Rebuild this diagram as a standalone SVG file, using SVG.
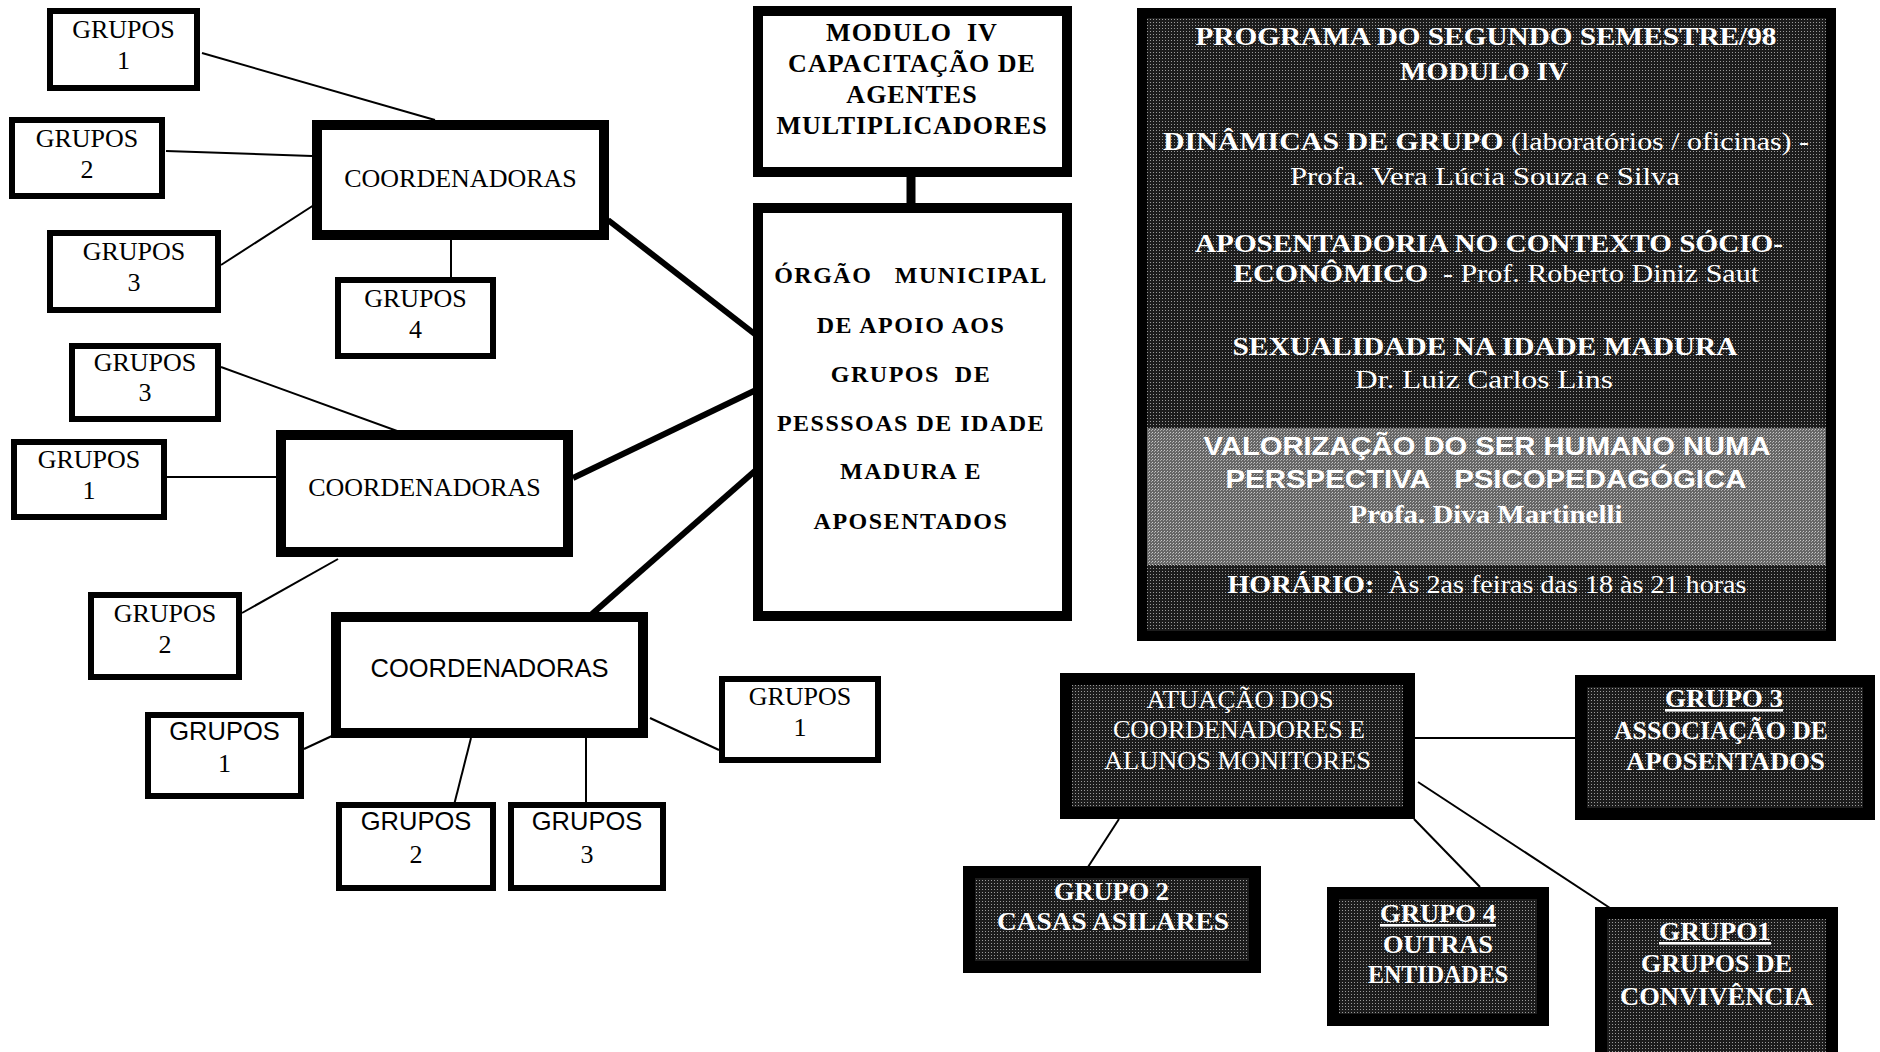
<svg xmlns="http://www.w3.org/2000/svg" width="1880" height="1052" viewBox="0 0 1880 1052">
<style>
.box{fill:#fff;stroke:#000;stroke-width:6}
.cbox{fill:#fff;stroke:#000;stroke-width:10}
.ser{font-family:"Liberation Serif","Times New Roman",serif;font-size:26px;text-anchor:middle;fill:#000}
.sans{font-family:"Liberation Sans",Arial,sans-serif;font-size:25.5px;text-anchor:middle;fill:#000}
.bold{font-weight:bold}
.pre{white-space:pre}
.thin{stroke:#000;stroke-width:2;fill:none}
.thick{stroke:#000;stroke-width:6;fill:none}
.pt{font-family:"Liberation Serif","Times New Roman",serif;font-size:26px;font-weight:bold;text-anchor:middle;fill:#fff}
.pn{font-weight:normal}
.ps{font-family:"Liberation Sans",Arial,sans-serif;font-weight:bold}
.blk{fill:#000}
</style>
<defs>
<pattern id="dk" width="3" height="3" patternUnits="userSpaceOnUse"><rect width="3" height="3" fill="#1c1c1c"/><rect x="1" y="1" width="1" height="1" fill="#9a9a9a"/></pattern>
<pattern id="lt" width="3" height="3" patternUnits="userSpaceOnUse"><rect width="3" height="3" fill="#666"/><rect x="0" y="0" width="1" height="1" fill="#c8c8c8"/><rect x="2" y="1" width="1" height="1" fill="#a8a8a8"/></pattern>
</defs>
<rect width="1880" height="1052" fill="#fff"/>

<g id="connectors">
  <line class="thin" x1="202" y1="53" x2="435" y2="120"/>
  <line class="thin" x1="166" y1="151" x2="312" y2="156"/>
  <line class="thin" x1="221" y1="265" x2="314" y2="205"/>
  <line class="thin" x1="451" y1="240" x2="451" y2="277"/>
  <line class="thin" x1="221" y1="367" x2="433" y2="444"/>
  <line class="thin" x1="167" y1="477" x2="276" y2="477"/>
  <line class="thin" x1="242" y1="613" x2="338" y2="559"/>
  <line class="thin" x1="304" y1="749" x2="334" y2="735"/>
  <line class="thin" x1="471" y1="738" x2="452" y2="813"/>
  <line class="thin" x1="586" y1="738" x2="586" y2="812"/>
  <line class="thin" x1="650" y1="718" x2="719" y2="750"/>
  <line class="thick" x1="608" y1="220" x2="756" y2="335"/>
  <line class="thick" x1="573" y1="478" x2="756" y2="390"/>
  <line class="thick" x1="592" y1="614" x2="756" y2="470"/>
  <line stroke="#000" stroke-width="9" x1="911" y1="175" x2="911" y2="205"/>
  <line class="thin" x1="1414" y1="738" x2="1576" y2="738"/>
  <line class="thin" x1="1119" y1="819" x2="1088" y2="867"/>
  <line class="thin" x1="1414" y1="819" x2="1480" y2="887"/>
  <line class="thin" x1="1418" y1="782" x2="1610" y2="908"/>
</g>

<g id="a-grupos1"><rect class="box" x="50" y="11" width="147" height="77"/><text class="ser" x="123.5" y="38">GRUPOS</text><text class="ser" x="123.5" y="69">1</text></g>
<g id="a-grupos2"><rect class="box" x="12" y="120" width="150" height="76"/><text class="ser" x="87" y="147">GRUPOS</text><text class="ser" x="87" y="178">2</text></g>
<g id="a-grupos3"><rect class="box" x="50" y="233" width="168" height="77"/><text class="ser" x="134" y="260">GRUPOS</text><text class="ser" x="134" y="291">3</text></g>
<g id="a-grupos4"><rect class="box" x="338" y="280" width="155" height="76"/><text class="ser" x="415.5" y="307">GRUPOS</text><text class="ser" x="415.5" y="338">4</text></g>
<g id="a-coord"><rect class="cbox" x="317" y="125" width="287" height="110"/><text class="ser" x="460.5" y="187" font-size="25.5">COORDENADORAS</text></g>

<g id="b-grupos3"><rect class="box" x="72" y="346" width="146" height="73"/><text class="ser" x="145" y="371">GRUPOS</text><text class="ser" x="145" y="401">3</text></g>
<g id="b-grupos1"><rect class="box" x="14" y="442" width="150" height="75"/><text class="ser" x="89" y="468">GRUPOS</text><text class="ser" x="89" y="499">1</text></g>
<g id="b-grupos2"><rect class="box" x="91" y="595" width="148" height="82"/><text class="ser" x="165" y="622">GRUPOS</text><text class="ser" x="165" y="653">2</text></g>
<g id="b-coord"><rect class="cbox" x="281" y="435" width="287" height="117"/><text class="ser" x="424.5" y="496" font-size="25.5">COORDENADORAS</text></g>

<g id="c-coord"><rect class="cbox" x="336" y="617" width="307" height="116"/><text class="sans" x="489.5" y="677">COORDENADORAS</text></g>
<g id="c-grupos1l"><rect class="box" x="148" y="715" width="153" height="81"/><text class="sans" x="224.5" y="740">GRUPOS</text><text class="ser" x="224.5" y="772">1</text></g>
<g id="c-grupos2"><rect class="box" x="339" y="805" width="154" height="83"/><text class="sans" x="416" y="830">GRUPOS</text><text class="ser" x="416" y="863">2</text></g>
<g id="c-grupos3"><rect class="box" x="511" y="805" width="152" height="83"/><text class="sans" x="587" y="830">GRUPOS</text><text class="ser" x="587" y="863">3</text></g>
<g id="c-grupos1r"><rect class="box" x="722" y="679" width="156" height="81"/><text class="ser" x="800" y="705">GRUPOS</text><text class="ser" x="800" y="736">1</text></g>

<g id="modulo"><rect class="cbox" x="758" y="11" width="309" height="161"/>
<g class="ser bold" style="letter-spacing:1px"><text class="pre" x="912" y="41">MODULO  IV</text><text x="912" y="72">CAPACITAÇÃO DE</text><text x="912" y="103">AGENTES</text><text x="912" y="134">MULTIPLICADORES</text></g></g>

<g id="orgao"><rect class="cbox" x="758" y="208" width="309" height="408"/>
<g class="ser bold" style="font-size:24px;letter-spacing:1.5px"><text class="pre" x="911" y="283">ÓRGÃO   MUNICIPAL</text><text x="911" y="333">DE APOIO AOS</text><text class="pre" x="911" y="382">GRUPOS  DE</text><text x="911" y="431">PESSSOAS DE IDADE</text><text x="911" y="479">MADURA E</text><text x="911" y="529">APOSENTADOS</text></g></g>

<g id="programa">
  <rect class="blk" x="1137" y="8" width="699" height="633"/>
  <rect fill="url(#dk)" x="1147" y="18" width="679" height="613"/>
  <rect fill="url(#lt)" x="1147" y="428" width="679" height="137"/>
  <text class="pt" x="1486" y="45" textLength="581" lengthAdjust="spacingAndGlyphs">PROGRAMA DO SEGUNDO SEMESTRE/98</text>
  <text class="pt" x="1484" y="80" textLength="168" lengthAdjust="spacingAndGlyphs">MODULO IV</text>
  <text class="pt" x="1486" y="150" textLength="646" lengthAdjust="spacingAndGlyphs">DINÂMICAS DE GRUPO <tspan class="pn">(laboratórios / oficinas) -</tspan></text>
  <text class="pt pn" x="1485" y="185" textLength="390" lengthAdjust="spacingAndGlyphs">Profa. Vera Lúcia Souza e Silva</text>
  <text class="pt" x="1489" y="252" textLength="588" lengthAdjust="spacingAndGlyphs">APOSENTADORIA NO CONTEXTO SÓCIO-</text>
  <text class="pt pre" x="1496" y="282" textLength="526" lengthAdjust="spacingAndGlyphs">ECONÔMICO  <tspan class="pn">- Prof. Roberto Diniz Saut</tspan></text>
  <text class="pt" x="1485" y="355" textLength="505" lengthAdjust="spacingAndGlyphs">SEXUALIDADE NA IDADE MADURA</text>
  <text class="pt pn" x="1484" y="388" textLength="258" lengthAdjust="spacingAndGlyphs">Dr. Luiz Carlos Lins</text>
  <text class="pt ps" x="1487" y="455" textLength="567" lengthAdjust="spacingAndGlyphs">VALORIZAÇÃO DO SER HUMANO NUMA</text>
  <text class="pt ps pre" x="1486" y="488" textLength="521" lengthAdjust="spacingAndGlyphs">PERSPECTIVA   PSICOPEDAGÓGICA</text>
  <text class="pt" x="1486" y="523" textLength="273" lengthAdjust="spacingAndGlyphs">Profa. Diva Martinelli</text>
  <text class="pt pre" x="1487" y="593" textLength="519" lengthAdjust="spacingAndGlyphs">HORÁRIO:  <tspan class="pn">Às 2as feiras das 18 às 21 horas</tspan></text>
</g>

<g id="atuacao">
  <rect class="blk" x="1060" y="673" width="355" height="146"/>
  <rect fill="url(#dk)" x="1072" y="685" width="331" height="122"/>
  <text class="pt pn" x="1240" y="708" textLength="187" lengthAdjust="spacingAndGlyphs">ATUAÇÃO DOS</text>
  <text class="pt pn" x="1239" y="738" textLength="252" lengthAdjust="spacingAndGlyphs">COORDENADORES E</text>
  <text class="pt pn" x="1237.5" y="769" textLength="267" lengthAdjust="spacingAndGlyphs">ALUNOS MONITORES</text>
</g>
<g id="grupo3">
  <rect class="blk" x="1575" y="675" width="300" height="145"/>
  <rect fill="url(#dk)" x="1587" y="687" width="276" height="121"/>
  <text class="pt" x="1724" y="707" textLength="118" lengthAdjust="spacingAndGlyphs" text-decoration="underline">GRUPO 3</text>
  <text class="pt" x="1721" y="739" textLength="214" lengthAdjust="spacingAndGlyphs">ASSOCIAÇÃO DE</text>
  <text class="pt" x="1725.5" y="770" textLength="199" lengthAdjust="spacingAndGlyphs">APOSENTADOS</text>
</g>
<g id="grupo2">
  <rect class="blk" x="963" y="866" width="298" height="107"/>
  <rect fill="url(#dk)" x="975" y="878" width="274" height="83"/>
  <text class="pt" x="1111.5" y="900" textLength="115" lengthAdjust="spacingAndGlyphs">GRUPO 2</text>
  <text class="pt" x="1113" y="930" textLength="232" lengthAdjust="spacingAndGlyphs">CASAS ASILARES</text>
</g>
<g id="grupo4">
  <rect class="blk" x="1327" y="887" width="222" height="139"/>
  <rect fill="url(#dk)" x="1339" y="899" width="198" height="115"/>
  <text class="pt" x="1438" y="922" textLength="116" lengthAdjust="spacingAndGlyphs" text-decoration="underline">GRUPO 4</text>
  <text class="pt" x="1438" y="953" textLength="110" lengthAdjust="spacingAndGlyphs">OUTRAS</text>
  <text class="pt" x="1438" y="983" textLength="140" lengthAdjust="spacingAndGlyphs">ENTIDADES</text>
</g>
<g id="grupo1">
  <rect class="blk" x="1595" y="907" width="243" height="155"/>
  <rect fill="url(#dk)" x="1607" y="919" width="219" height="145"/>
  <text class="pt" x="1715" y="940" textLength="112" lengthAdjust="spacingAndGlyphs" text-decoration="underline">GRUPO1</text>
  <text class="pt" x="1716.5" y="972" textLength="151" lengthAdjust="spacingAndGlyphs">GRUPOS DE</text>
  <text class="pt" x="1716.5" y="1005" textLength="193" lengthAdjust="spacingAndGlyphs">CONVIVÊNCIA</text>
</g>
</svg>
